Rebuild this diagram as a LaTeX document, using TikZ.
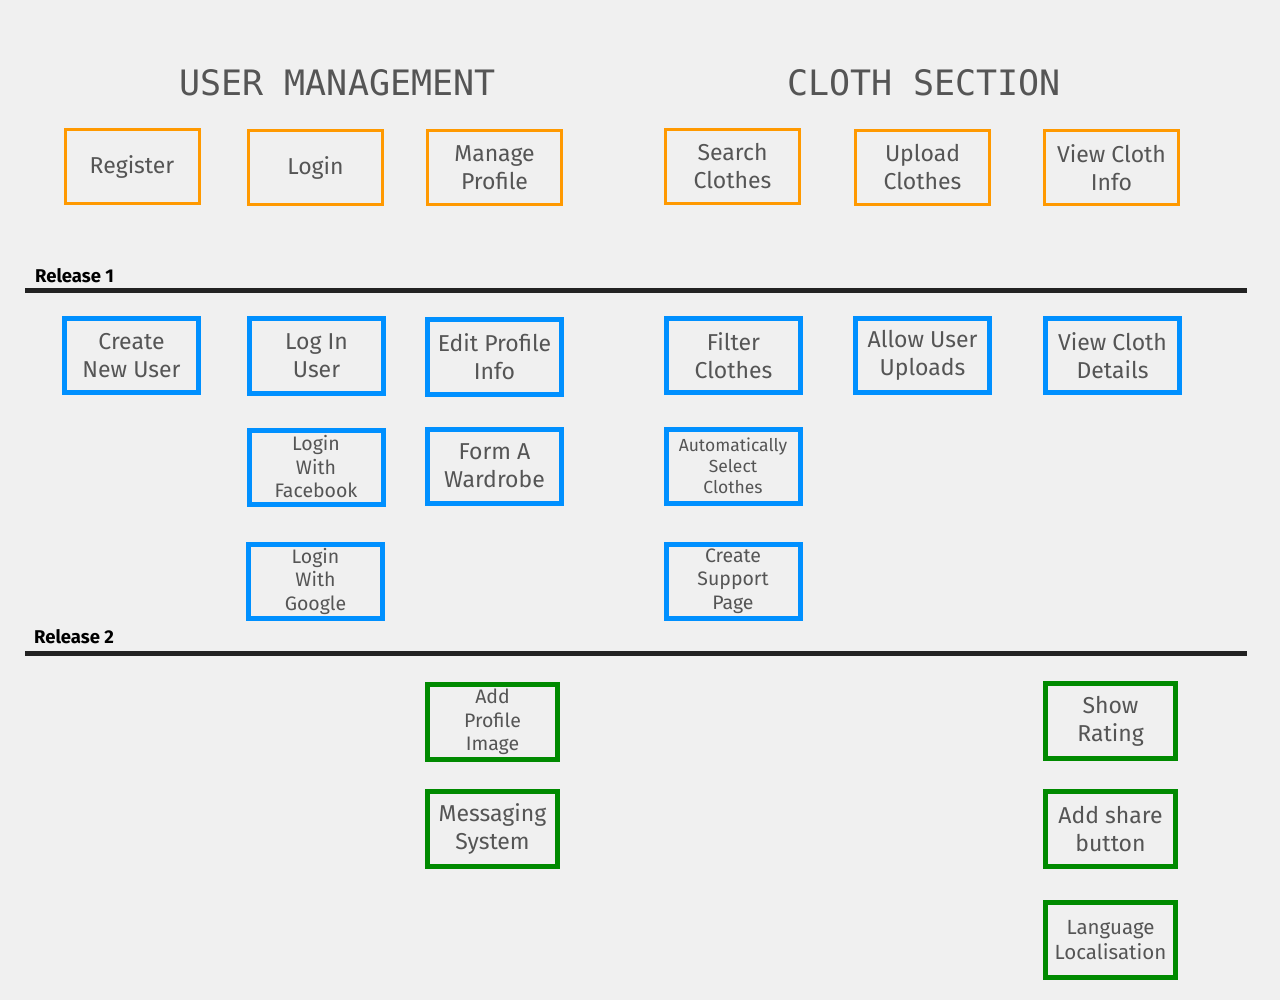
\documentclass[tikz,border=0pt]{standalone}
\usepackage{fontspec}
\setmainfont{Fira Sans}
\newfontfamily\titlefont{DejaVu Sans Mono}
\newfontfamily\relfont{Fira Sans}
\definecolor{bgc}{HTML}{F0F0F0}
\definecolor{txtc}{HTML}{555555}
\definecolor{orangec}{HTML}{FF9900}
\definecolor{bluec}{HTML}{0090FF}
\definecolor{greenc}{HTML}{008A00}
\definecolor{linec}{HTML}{222222}
\begin{document}
\begin{tikzpicture}[x=1pt,y=-1pt,
  box/.style={draw, rectangle, align=center, text=txtc, inner sep=0pt,
    font=\fontsize{23pt}{28pt}\selectfont},
  obox/.style={box, draw=orangec, line width=3pt, minimum width=134pt, minimum height=74pt},
  bbox/.style={box, draw=bluec, line width=5pt, minimum width=134pt, minimum height=74pt},
  gbox/.style={box, draw=greenc, line width=5pt, minimum width=130pt, minimum height=75pt},
  small/.style={font=\fontsize{19.5pt}{23.5pt}\selectfont},
  tiny/.style={font=\fontsize{17.5pt}{21pt}\selectfont},
  title/.style={text=txtc, font=\titlefont\fontsize{35pt}{40pt}\selectfont, inner sep=0pt},
  rel/.style={anchor=base west, inner sep=0pt, text=black, font=\relfont\bfseries\fontsize{18.5pt}{20pt}\selectfont},
  relline/.style={draw=linec, line width=5pt}
]
\fill[bgc] (0,0) rectangle (1280,1000);
\useasboundingbox (0,0) rectangle (1280,1000);

% titles
\node[title] (t1) at (337.5,82.5) {USER MANAGEMENT};
\node[title] (t2) at (924,82.5) {CLOTH SECTION};

% row 0
\node[obox] (register) at (132,166.5) {Register};
\node[obox] (login) at (315.5,167.5) {Login};
\node[obox] (manage) at (494.5,167.5) {Manage\\Profile};
\node[obox] (search) at (732.5,166.5) {Search\\Clothes};
\node[obox] (upload) at (922.5,167.5) {Upload\\Clothes};
\node[obox] (viewinfo) at (1111.5,167.5) {View Cloth\\Info};

% release 1
\node[rel] (r1) at (35,283) {Release 1};
\coordinate (r1a) at (25,291);
\coordinate (r1b) at (1247,291);
\draw[relline] (r1a) -- (r1b);

% row 1
\node[bbox] (create) at (131.5,355.5) {Create\\New User};
\node[bbox] (loginuser) at (316.5,356) {Log In\\User};
\node[bbox] (edit) at (494.5,357) {Edit Profile\\Info};
\node[bbox] (filter) at (733.5,355.5) {Filter\\Clothes};
\node[bbox] (allow) at (922.5,355.5) {Allow User\\Uploads};
\node[bbox] (details) at (1112.5,355.5) {View Cloth\\Details};

% row 2
\node[bbox, small] (fb) at (316,467) {Login\\With\\Facebook};
\node[bbox] (wardrobe) at (494.5,466) {Form A\\Wardrobe};
\node[bbox, tiny] (auto) at (733,466) {Automatically\\Select\\Clothes};

% row 3
\node[bbox, small] (google) at (315.5,581) {Login\\With\\Google};
\node[bbox, small] (support) at (733,581) {Create\\Support\\Page};

% release 2
\node[rel] (r2) at (34,643) {Release 2};
\coordinate (r2a) at (25,653);
\coordinate (r2b) at (1247,653);
\draw[relline] (r2a) -- (r2b);

% release 2 items
\node[gbox, small] (addimg) at (492.5,722) {Add\\Profile\\Image};
\node[gbox] (msg) at (492.5,829) {Messaging\\System};
\node[gbox] (rating) at (1110.5,721) {Show\\Rating};
\node[gbox] (share) at (1110.5,829) {Add share\\button};
\node[gbox, font=\fontsize{20.5pt}{25pt}\selectfont] (lang) at (1110.5,940) {Language\\Localisation};
\end{tikzpicture}
\end{document}
